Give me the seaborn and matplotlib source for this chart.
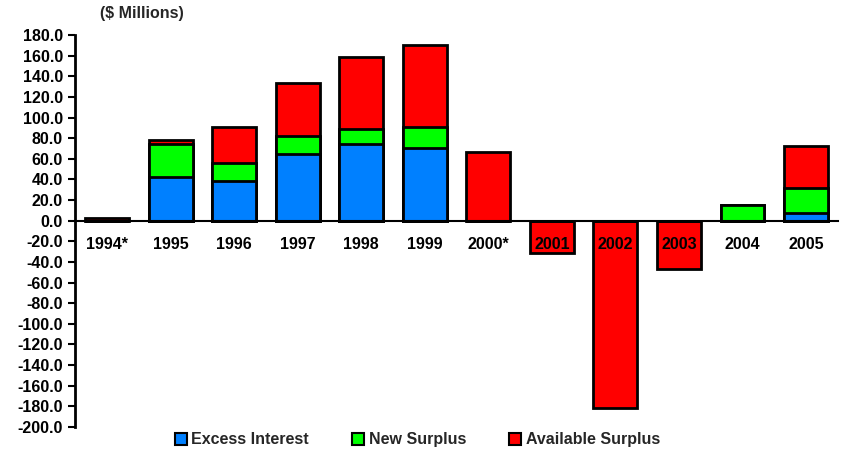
import numpy as np
import matplotlib
matplotlib.use("Agg")
import matplotlib.pyplot as plt
import seaborn as sns
from matplotlib.patches import Patch
from matplotlib.ticker import FuncFormatter, MultipleLocator

years = ["1994*", "1995", "1996", "1997", "1998", "1999", "2000*",
         "2001", "2002", "2003", "2004", "2005"]
excess_interest = [0.0, 42.6, 38.5, 64.3, 74.0, 70.7, 0.0, 0.0, 0.0, 0.0, 0.0, 7.1]
new_surplus = [0.0, 31.7, 17.1, 18.0, 15.0, 19.8, 0.0, 0.0, 0.0, 0.0, 15.2, 24.9]
available_surplus = [2.5, 3.9, 35.5, 51.5, 70.0, 79.8, 66.9, -31.6, -181.8, -46.8, 0.0, 40.4]

series_names = ["Excess Interest", "New Surplus", "Available Surplus"]
colors = ["#0080FF", "#00FF00", "#FF0000"]

sns.set_style("white")
plt.rcParams["font.family"] = ["Liberation Sans", "DejaVu Sans"]
plt.rcParams["font.weight"] = "bold"
fs = 11.5

fig = plt.figure(figsize=(8.44, 4.55), dpi=100)
ax = fig.add_axes([0.0892, 0.0615, 0.9034, 0.8616])

# stacked bars: draw cumulative totals from the top layer down
layers = [excess_interest, new_surplus, available_surplus]
cum = np.cumsum(np.array(layers), axis=0)
for k in [2, 1, 0]:
    sns.barplot(x=years, y=cum[k], color=colors[k], saturation=1,
                edgecolor="black", linewidth=2, width=0.69,
                errorbar=None, ax=ax)
for p in ax.patches:
    p.set_zorder(1)

ax.set_xlim(-0.5, 11.5)
ax.set_ylim(-200, 180)
ax.yaxis.set_major_locator(MultipleLocator(20))
ax.yaxis.set_major_formatter(FuncFormatter(lambda v, p: f"{v:.1f}"))

for s in ["top", "right"]:
    ax.spines[s].set_visible(False)
ax.spines["left"].set_linewidth(2)
ax.spines["left"].set_color("black")
ax.spines["bottom"].set_position(("data", 0))
ax.spines["bottom"].set_linewidth(1.5)
ax.spines["bottom"].set_color("black")
ax.spines["bottom"].set_zorder(3)
ax.xaxis.set_zorder(5)

ax.tick_params(axis="x", length=0, pad=12, labelsize=fs, labelcolor="black")
ax.tick_params(axis="y", left=True, direction="out", length=5, width=1.5,
               pad=4, labelsize=fs, labelcolor="black", color="black")
for lab in ax.get_xticklabels() + ax.get_yticklabels():
    lab.set_fontweight("bold")
ax.set_xlabel("")
ax.set_ylabel("")

fig.text(0.1185, 0.971, "($ Millions)", fontsize=fs, fontweight="bold",
         ha="left", va="center")

handles = [Patch(facecolor=c, edgecolor="black", linewidth=1.5) for c in colors]
fig.legend(handles, series_names, loc="center", bbox_to_anchor=(0.4947, 0.033),
           ncol=3, frameon=False, handlelength=0.75,
           handleheight=0.75, handletextpad=0.3, columnspacing=2.7,
           prop={"weight": "bold", "size": fs})

fig.savefig("out.png", dpi=100)
